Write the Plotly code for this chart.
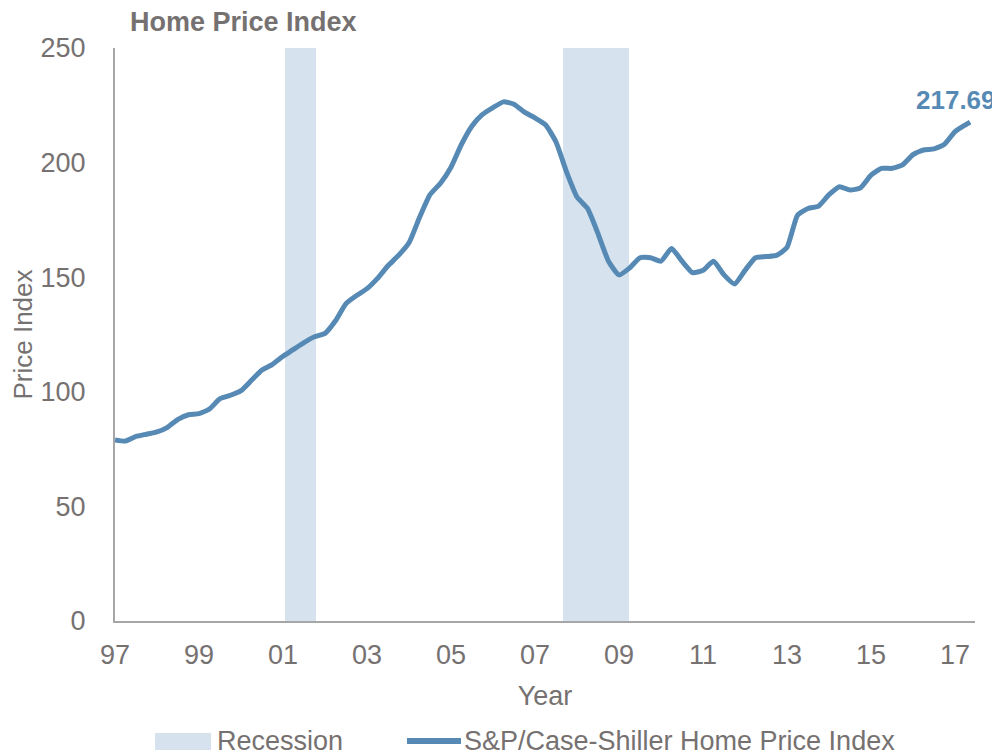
import plotly.graph_objects as go


# -------------------------------------------------------------------
# DATA
# -------------------------------------------------------------------

# quarterly observations, decimal years
years = [
    1997.00, 1997.25, 1997.50, 1997.75, 1998.00, 1998.25, 1998.50, 1998.75,
    1999.00, 1999.25, 1999.50, 1999.75, 2000.00, 2000.25, 2000.50, 2000.75,
    2001.00, 2001.25, 2001.50, 2001.75, 2002.00, 2002.25, 2002.50, 2002.75,
    2003.00, 2003.25, 2003.50, 2003.75, 2004.00, 2004.25, 2004.50, 2004.75,
    2005.00, 2005.25, 2005.50, 2005.75, 2006.00, 2006.25, 2006.50, 2006.75,
    2007.00, 2007.25, 2007.50, 2007.75, 2008.00, 2008.25, 2008.50, 2008.75,
    2009.00, 2009.25, 2009.50, 2009.75, 2010.00, 2010.25, 2010.50, 2010.75,
    2011.00, 2011.25, 2011.50, 2011.75, 2012.00, 2012.25, 2012.50, 2012.75,
    2013.00, 2013.25, 2013.50, 2013.75, 2014.00, 2014.25, 2014.50, 2014.75,
    2015.00, 2015.25, 2015.50, 2015.75, 2016.00, 2016.25, 2016.50, 2016.75,
    2017.00, 2017.25, 2017.36,
]

hpi = [
    79.0, 78.5, 80.5, 81.5, 82.5, 84.5, 88.0, 90.0,
    90.5, 92.5, 97.0, 98.5, 100.5, 105.0, 109.5, 112.0,
    115.5, 118.5, 121.5, 124.0, 125.5, 131.0, 138.5, 142.0,
    145.0, 149.5, 155.0, 159.5, 165.0, 176.0, 186.0, 191.0,
    198.0, 208.0, 216.0, 221.0, 224.0, 226.5, 225.5, 222.0,
    219.5, 216.5, 209.0, 196.0, 185.0, 180.0, 169.0, 157.0,
    151.0, 154.0, 158.5, 158.5, 157.0, 162.5, 157.0, 152.0,
    153.0, 157.0, 151.0, 147.0, 153.0, 158.5, 159.0, 159.5,
    163.0, 177.0, 180.0, 181.0, 186.0, 189.5, 188.0, 189.0,
    194.5, 197.5, 197.5, 199.0, 203.5, 205.5, 206.0, 208.0,
    213.5, 216.5, 217.69,
]

recession_start = [2001.05, 2007.67]
recession_end = [2001.79, 2009.24]

tick_years = [1997, 1999, 2001, 2003, 2005, 2007, 2009, 2011, 2013, 2015, 2017]
tick_labels = ["97", "99", "01", "03", "05", "07", "09", "11", "13", "15", "17"]

LINE_COLOR = "#568ab5"
BAND_COLOR = "#d6e3ee"
GRAY = "#767171"
AXIS_GRAY = "#a6a6a6"
FONT = "Liberation Sans, Arial, sans-serif"

# the page body adds an 8px margin, so the figure is made that much smaller
# and every pixel position below is taken relative to the figure itself
OFF = 8
W, H = 1000 - OFF, 756 - OFF
L, R, T, B = 115 - OFF, 975 - OFF, 48 - OFF, 621 - OFF


def px_x(p):
    return (p - OFF - L) / (R - L)


def px_y(p):
    return (B - (p - OFF)) / (B - T)


# -------------------------------------------------------------------
# FIGURE
# -------------------------------------------------------------------

fig = go.Figure()

fig.add_trace(go.Bar(
    x=[(s + e) / 2 for s, e in zip(recession_start, recession_end)],
    y=[250] * len(recession_start),
    width=[e - s for s, e in zip(recession_start, recession_end)],
    marker=dict(color=BAND_COLOR, line=dict(width=0)),
    name="Recession",
    hoverinfo="skip",
))

fig.add_trace(go.Scatter(
    x=years,
    y=hpi,
    mode="lines",
    line=dict(color=LINE_COLOR, width=5, shape="spline", smoothing=0.5),
    name="S&P/Case-Shiller Home Price Index",
))

# last value label
fig.add_annotation(
    x=years[-1], y=hpi[-1],
    text=f"<b>{hpi[-1]:.2f}</b>",
    showarrow=False,
    xanchor="right", yanchor="middle",
    xshift=28, yshift=22,
    font=dict(size=26, color=LINE_COLOR, family=FONT),
)

# legend drawn by hand (wide swatch for the recession band)
fig.add_shape(type="rect", xref="paper", yref="paper",
              x0=px_x(155), x1=px_x(211), y0=px_y(750), y1=px_y(733),
              fillcolor=BAND_COLOR, line=dict(width=0))
fig.add_annotation(xref="paper", yref="paper", x=px_x(215), y=px_y(741),
                   text="Recession", showarrow=False,
                   xanchor="left", yanchor="middle",
                   font=dict(size=27, color=GRAY, family=FONT))
fig.add_shape(type="line", xref="paper", yref="paper",
              x0=px_x(407), x1=px_x(461), y0=px_y(741), y1=px_y(741),
              line=dict(color=LINE_COLOR, width=6))
fig.add_annotation(xref="paper", yref="paper", x=px_x(462), y=px_y(741),
                   text="S&P/Case-Shiller Home Price Index", showarrow=False,
                   xanchor="left", yanchor="middle",
                   font=dict(size=27, color=GRAY, family=FONT))

fig.update_layout(
    width=W,
    height=H,
    paper_bgcolor="white",
    plot_bgcolor="white",
    font=dict(family=FONT, size=26, color=GRAY),
    title=dict(
        text="<b>Home Price Index</b>",
        x=(130 - OFF) / W, xanchor="left",
        y=1 - (22 - OFF) / H, yanchor="middle",
        font=dict(size=27, color=GRAY, family=FONT),
    ),
    margin=dict(t=T, b=H - B, l=L, r=W - R),
    bargap=0,
    showlegend=False,
)

fig.update_xaxes(
    range=[1997, 2017.476],
    tickvals=tick_years,
    ticktext=tick_labels,
    showgrid=False,
    zeroline=False,
    showline=True,
    linecolor=AXIS_GRAY,
    linewidth=2,
    ticks="",
    automargin=False,
    ticklabelstandoff=9,
    tickfont=dict(size=27, color=GRAY),
    title=dict(text="Year", font=dict(size=27, color=GRAY), standoff=17),
)

fig.update_yaxes(
    range=[0, 250],
    tickvals=[0, 50, 100, 150, 200, 250],
    showgrid=False,
    zeroline=False,
    showline=True,
    linecolor=AXIS_GRAY,
    linewidth=2,
    ticks="",
    automargin=False,
    ticklabelstandoff=22,
    tickfont=dict(size=27, color=GRAY),
    title=dict(text="Price Index", font=dict(size=26, color=GRAY), standoff=14),
)

fig.write_html("out.html")
